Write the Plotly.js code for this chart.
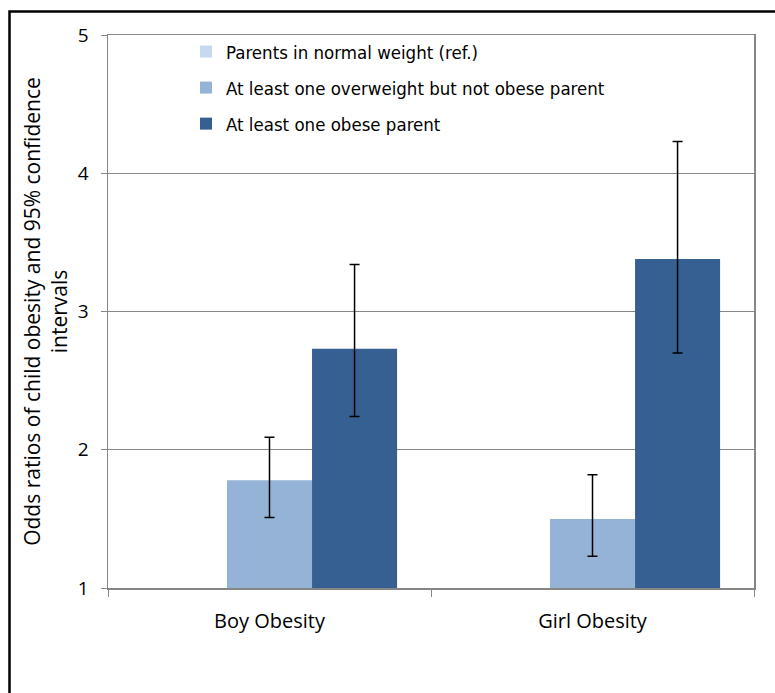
<!DOCTYPE html>
<html>
<head>
<meta charset="utf-8">
<script src="https://cdn.plot.ly/plotly-3.0.1.min.js"></script>
<style>
  html, body { margin: 0; padding: 0; background: #ffffff; }
  #chart { width: 775px; height: 693px; }
</style>
</head>
<body>
<div id="chart"></div>
<script>
// Child obesity by parental weight status: odds ratios with 95% CIs
const categories = ['Boy Obesity', 'Girl Obesity'];
const seriesNames = [
  'Parents in normal weight (ref.)',
  'At least one overweight but not obese parent',
  'At least one obese parent'
];
const refOR = [1, 1];
const overweightOR = [1.78, 1.50];
const overweightLo = [1.51, 1.23];
const overweightHi = [2.09, 1.82];
const obeseOR = [2.73, 3.38];
const obeseLo = [2.24, 2.70];
const obeseHi = [3.34, 4.23];
const yTicks = [1, 2, 3, 4, 5];

const colors = ['#C6D9F1', '#95B3D7', '#376092'];
const W = 775, H = 693;
const M = { l: 108, r: 21, t: 35, b: 105 };
const FONT = 'Open Sans, sans-serif';

function ciBars(val, lo, hi) {
  return {
    type: 'data',
    symmetric: false,
    array: hi.map((h, i) => h - val[i]),
    arrayminus: lo.map((l, i) => val[i] - l),
    color: '#000000',
    thickness: 1.5,
    width: 5
  };
}

const traces = [
  { name: seriesNames[0], x: categories, y: refOR, legendgroup: 'a' },
  { name: seriesNames[1], x: categories, y: overweightOR, legendgroup: 'b',
    error_y: ciBars(overweightOR, overweightLo, overweightHi) },
  { name: seriesNames[2], x: categories, y: obeseOR, legendgroup: 'c',
    error_y: ciBars(obeseOR, obeseLo, obeseHi) }
].map((t, i) => Object.assign({ type: 'bar', marker: { color: colors[i] }, hoverinfo: 'skip' }, t));

// convert page pixels to paper coordinates (legend placement and outer frame)
const pw = W - M.l - M.r, ph = H - M.t - M.b;
const px = x => (x - M.l) / pw;
const py = y => (H - M.b - y) / ph;

const layout = {
  width: W, height: H,
  margin: M,
  paper_bgcolor: '#ffffff',
  plot_bgcolor: '#ffffff',
  font: { family: FONT, color: '#000000' },
  barmode: 'group',
  bargap: 0.21,
  bargroupgap: 0,
  showlegend: true,
  legend: {
    x: px(186), y: py(33), xanchor: 'left', yanchor: 'top',
    bgcolor: 'rgba(0,0,0,0)',
    font: { family: 'DejaVu Sans Condensed, ' + FONT, size: 18.5, color: '#000000' },
    traceorder: 'grouped',
    tracegroupgap: 9,
    itemwidth: 30
  },
  xaxis: {
    type: 'category',
    showline: true, linecolor: '#868686', linewidth: 1.5,
    mirror: true,
    ticks: 'outside', tickson: 'boundaries', ticklen: 7, tickcolor: '#868686',
    ticklabelstandoff: 14,
    tickfont: { family: FONT, size: 20, color: '#000000' },
    showgrid: false, zeroline: false,
    fixedrange: true
  },
  yaxis: {
    range: [1, 5],
    tickvals: yTicks,
    ticktext: yTicks.map(String),
    showline: true, linecolor: '#868686', linewidth: 1.5,
    mirror: true,
    ticks: 'outside', ticklen: 6, tickcolor: '#868686',
    ticklabelstandoff: 8,
    tickfont: { family: FONT, size: 19, color: '#000000' },
    showgrid: true, gridcolor: '#868686', gridwidth: 1,
    zeroline: false,
    title: {
      text: 'Odds ratios of child obesity and 95% confidence<br>intervals',
      font: { family: FONT, size: 21, color: '#000000' },
      standoff: 4
    },
    fixedrange: true
  },
  shapes: [{
    type: 'rect', xref: 'paper', yref: 'paper', layer: 'above',
    x0: px(9.5), x1: px(800), y0: py(720), y1: py(11.5),
    line: { color: '#000000', width: 2.5 }, fillcolor: 'rgba(0,0,0,0)'
  }]
};

Plotly.newPlot('chart', traces, layout, { displayModeBar: false, staticPlot: true });
</script>
</body>
</html>
